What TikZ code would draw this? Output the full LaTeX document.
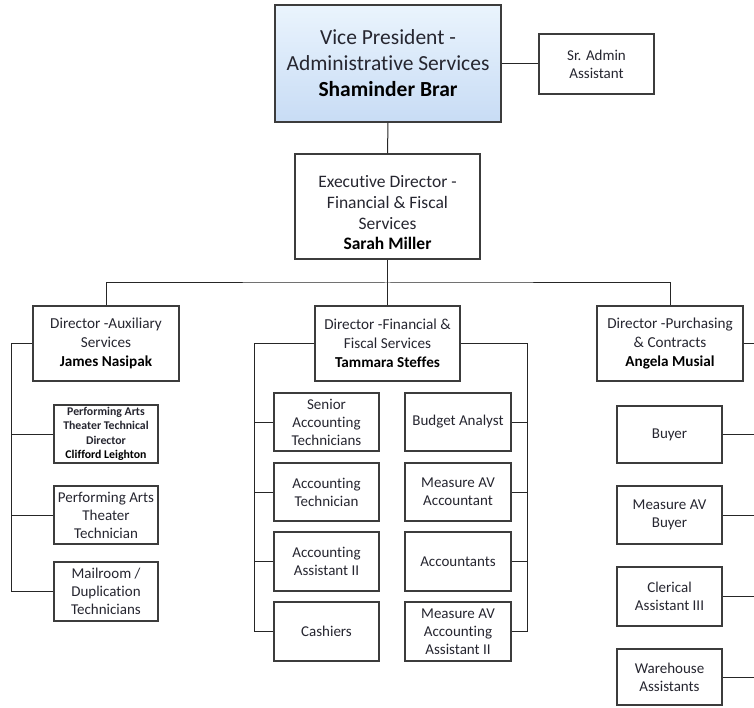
\documentclass[tikz,border=0pt]{standalone}
\usepackage{fontspec}
\setmainfont[Ligatures=NoCommon]{Carlito}
\definecolor{boxline}{HTML}{3C3C3C}
\definecolor{txt}{HTML}{262630}
\definecolor{vptop}{HTML}{EAF4FD}
\definecolor{vpbot}{HTML}{C8DCF5}
\begin{document}
\begin{tikzpicture}[x=1pt,y=-1pt,
  box/.style={draw=boxline,line width=1.1pt,fill=white,align=center,inner sep=0pt,text=txt},
  big/.style={font=\fontsize{21.5}{26}\selectfont},
  mid/.style={font=\fontsize{17.5}{20.7}\selectfont},
  dir/.style={font=\fontsize{15.2}{19}\selectfont},
  kid/.style={font=\fontsize{15}{18}\selectfont},
  tiny/.style={font=\fontsize{11.8}{14.5}\selectfont\bfseries},
  link/.style={draw=black!85,line width=1pt}]
\useasboundingbox (0,0) rectangle (754,708);
% top
\node[box,big,top color=vptop,bottom color=vpbot,minimum width=226pt,minimum height=117pt] (vp) at (388,63.5)
  {Vice President -\\Administrative Services\\\textcolor{black}{\bfseries Shaminder Brar}};
\node[box,kid,minimum width=115pt,minimum height=60pt] (admin) at (596.5,64) {Sr. Admin\\Assistant};
\node[box,mid,minimum width=185pt,minimum height=105pt] (exec) at (387.5,206.5)
  {\rule{0pt}{25pt}Executive Director -\\Financial \& Fiscal\\Services\\\textcolor{black}{\bfseries Sarah Miller}};
% directors
\node[box,dir,minimum width=146pt,minimum height=75pt] (aux) at (106,343.5)
  {Director -Auxiliary\\Services\\\textcolor{black}{\bfseries James Nasipak}};
\node[box,dir,minimum width=145pt,minimum height=75pt] (fin) at (387.5,343.5)
  {Director -Financial \&\\Fiscal Services\\\textcolor{black}{\bfseries Tammara Steffes}};
\node[box,dir,minimum width=146pt,minimum height=75pt] (pur) at (670,343.5)
  {Director -Purchasing\\\& Contracts\\\textcolor{black}{\bfseries Angela Musial}};
% auxiliary children
\node[box,tiny,minimum width=104pt,minimum height=58pt] (pattd) at (106,434)
  {Performing Arts\\Theater Technical\\Director\\\textcolor{black}{Clifford Leighton}};
\node[box,kid,minimum width=104pt,minimum height=58pt] (patt) at (106,515)
  {Performing Arts\\Theater\\Technician};
\node[box,kid,minimum width=104pt,minimum height=59pt] (mail) at (106,591.5)
  {Mailroom /\\Duplication\\Technicians};
% financial children
\node[box,kid,minimum width=105pt,minimum height=58pt] (sat) at (326.5,422) {Senior\\Accounting\\Technicians};
\node[box,kid,minimum width=105pt,minimum height=58pt] (at) at (326.5,492) {Accounting\\Technician};
\node[box,kid,minimum width=105pt,minimum height=59pt] (aa) at (326.5,561.5) {Accounting\\Assistant II};
\node[box,kid,minimum width=105pt,minimum height=59pt] (cash) at (326.5,631.5) {Cashiers};
\node[box,kid,minimum width=106pt,minimum height=58pt] (ba) at (458,422) {Budget Analyst};
\node[box,kid,minimum width=106pt,minimum height=58pt] (mava) at (458,492) {Measure AV\\Accountant};
\node[box,kid,minimum width=106pt,minimum height=59pt] (acc) at (458,561.5) {Accountants};
\node[box,kid,minimum width=106pt,minimum height=59pt] (mavaa) at (458,631.5) {Measure AV\\Accounting\\Assistant II};
% purchasing children
\node[box,kid,minimum width=105pt,minimum height=57pt] (buyer) at (669.5,434.5) {Buyer};
\node[box,kid,minimum width=105pt,minimum height=58pt] (mavb) at (669.5,515) {Measure AV\\Buyer};
\node[box,kid,minimum width=105pt,minimum height=59pt] (cler) at (669.5,596.5) {Clerical\\Assistant III};
\node[box,kid,minimum width=105pt,minimum height=56pt] (ware) at (669.5,677) {Warehouse\\Assistants};
% helper coordinates
\coordinate (bus) at (387.5,283);
\coordinate (auxL) at (11,0);
\coordinate (finL) at (254,0);
\coordinate (finR) at (527,0);
\coordinate (edge) at (754,0);
% connectors
\draw[link] (vp.east |- admin.west) -- (admin.west);
\draw[link] (vp.south) -- (exec.north);
\draw[link] (exec.south) -- (fin.north);
\draw[link] (aux.north) |- (bus) -| (pur.north);
\draw[link] (aux.west) -| (auxL |- mail.west) -- (mail.west);
\draw[link] (auxL |- pattd.west) -- (pattd.west);
\draw[link] (auxL |- patt.west) -- (patt.west);
\draw[link] (fin.west) -| (finL |- cash.west) -- (cash.west);
\draw[link] (finL |- sat.west) -- (sat.west);
\draw[link] (finL |- at.west) -- (at.west);
\draw[link] (finL |- aa.west) -- (aa.west);
\draw[link] (fin.east) -| (finR |- mavaa.east) -- (mavaa.east);
\draw[link] (finR |- ba.east) -- (ba.east);
\draw[link] (finR |- mava.east) -- (mava.east);
\draw[link] (finR |- acc.east) -- (acc.east);
\draw[link] (pur.east) -- (pur.east -| edge);
\draw[link] (buyer.east) -- (buyer.east -| edge);
\draw[link] (mavb.east) -- (mavb.east -| edge);
\draw[link] (cler.east) -- (cler.east -| edge);
\draw[link] (ware.east) -- (ware.east -| edge);
\end{tikzpicture}
\end{document}
